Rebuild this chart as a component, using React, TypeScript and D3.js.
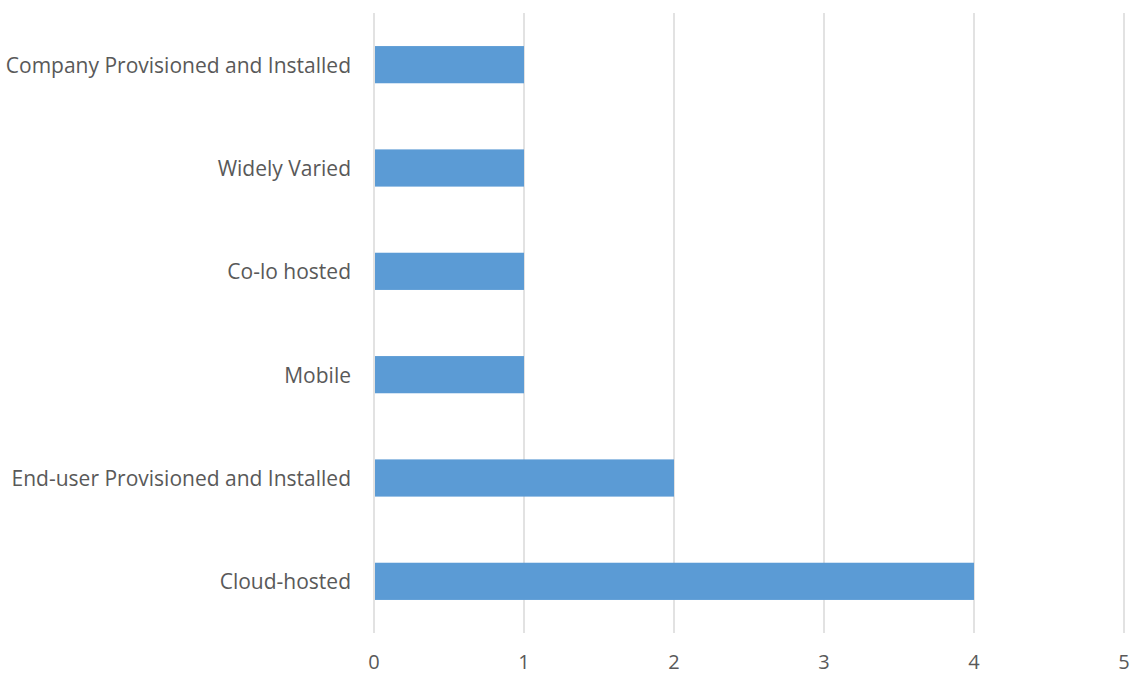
import React from "react";
import * as d3 from "d3";

const categories = [
  "Company Provisioned and Installed",
  "Widely Varied",
  "Co-lo hosted",
  "Mobile",
  "End-user Provisioned and Installed",
  "Cloud-hosted",
];
const values = [1, 1, 1, 1, 2, 4];
const xTicks = [0, 1, 2, 3, 4, 5];

const W = 1136;
const H = 675;
const left = 374;
const right = 1124;
const top = 13;
const bottom = 633;

export default function App() {
  const x = d3.scaleLinear().domain([0, 5]).range([left, right]);
  const y = d3
    .scaleBand<string>()
    .domain(categories)
    .range([top, bottom])
    .paddingInner(0.64)
    .paddingOuter(0.32);
  const font = "'Open Sans', sans-serif";
  return (
    <svg
      width={W}
      height={H}
      style={{ position: "absolute", left: 0, top: 0, background: "#fff" }}
    >
      {xTicks.map((t) => (
        <line
          key={t}
          x1={x(t)}
          x2={x(t)}
          y1={top}
          y2={bottom}
          stroke="#d9d9d9"
          strokeWidth={1.5}
        />
      ))}
      {categories.map((c, i) => (
        <rect
          key={c}
          x={x(0) + 1}
          y={y(c)}
          width={x(values[i]) - x(0) - 1}
          height={y.bandwidth()}
          fill="#5b9bd5"
        />
      ))}
      {categories.map((c) => (
        <text
          key={c}
          x={351}
          y={(y(c) ?? 0) + y.bandwidth() / 2}
          textAnchor="end"
          dominantBaseline="central"
          fontFamily={font}
          fontSize={21}
          fill="#595959"
        >
          {c}
        </text>
      ))}
      {xTicks.map((t) => (
        <text
          key={t}
          x={x(t)}
          y={669}
          textAnchor="middle"
          fontFamily={font}
          fontSize={20}
          fill="#595959"
        >
          {t}
        </text>
      ))}
    </svg>
  );
}
